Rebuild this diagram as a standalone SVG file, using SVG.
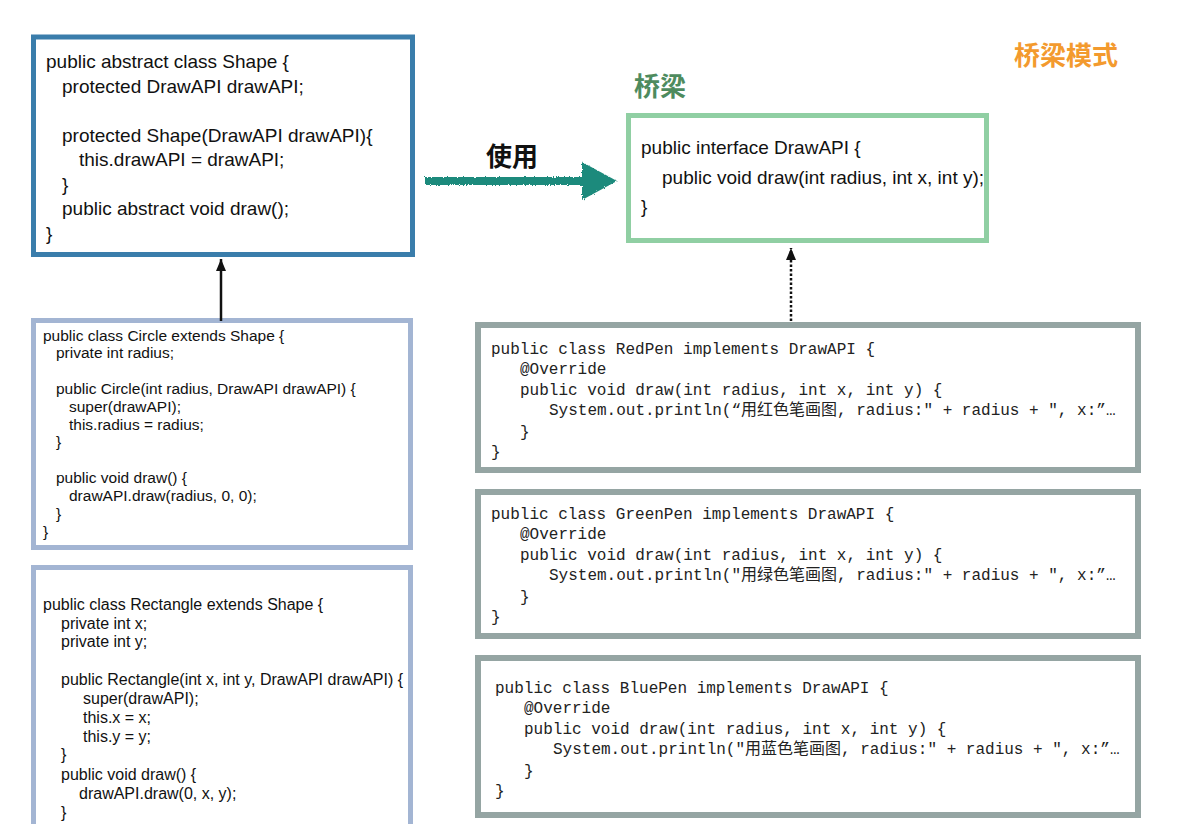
<svg xmlns="http://www.w3.org/2000/svg" width="1189" height="824" viewBox="0 0 1189 824">
<defs>
<style>
.box{fill:#fff;}
.shape{stroke:#3a7dab;stroke-width:5;}
.sub{stroke:#a3b5d3;stroke-width:5;}
.api{stroke:#90cfa3;stroke-width:5;}
.pen{stroke:#95a5a3;stroke-width:6;}
.sans{font-family:"Liberation Sans",Arial,sans-serif;fill:#111;}
.mono{font-family:"Liberation Mono","Courier New","Noto Sans CJK SC",monospace;font-size:16px;fill:#222;}
.t19{font-size:19px;}
.t155{font-size:15.5px;}
.t16{font-size:16px;}
.cjk{font-family:"Noto Sans CJK SC","Liberation Sans",sans-serif;font-weight:bold;}
</style>
<marker id="ah" viewBox="0 0 12 10" refX="12" refY="5" markerWidth="12" markerHeight="10" markerUnits="userSpaceOnUse" orient="auto">
<path d="M0,0 L12,5 L0,10 Z" fill="#111"/>
</marker>
<filter id="rough" x="-5%" y="-30%" width="110%" height="160%">
<feTurbulence type="fractalNoise" baseFrequency="0.9" numOctaves="2" seed="3"/>
<feDisplacementMap in="SourceGraphic" scale="3"/>
</filter>
</defs>
<rect width="1189" height="824" fill="#fff"/>

<text class="cjk" x="1014" y="65" font-size="26" fill="#f39a2e">桥梁模式</text>
<text class="cjk" x="634" y="96" font-size="26" fill="#4e8b5e">桥梁</text>

<g id="shape">
<rect class="box shape" x="33.5" y="37" width="379" height="217.5"/>
<text class="sans t19">
<tspan x="46" y="68">public abstract class Shape {</tspan>
<tspan x="62" y="92.5">protected DrawAPI drawAPI;</tspan>
<tspan x="62" y="141.5">protected Shape(DrawAPI drawAPI){</tspan>
<tspan x="79" y="166">this.drawAPI = drawAPI;</tspan>
<tspan x="62" y="190.5">}</tspan>
<tspan x="62" y="215">public abstract void draw();</tspan>
<tspan x="46" y="239.5">}</tspan>
</text>
</g>

<g id="drawapi">
<rect class="box api" x="628.5" y="115.5" width="358" height="125"/>
<text class="sans t19">
<tspan x="641" y="154">public interface DrawAPI {</tspan>
<tspan x="662" y="184">public void draw(int radius, int x, int y);</tspan>
<tspan x="641" y="213">}</tspan>
</text>
</g>

<g id="circle">
<rect class="box sub" x="33.5" y="320.5" width="377" height="227"/>
<text class="sans t155">
<tspan x="43" y="341">public class Circle extends Shape {</tspan>
<tspan x="56" y="358">private int radius;</tspan>
<tspan x="56" y="394">public Circle(int radius, DrawAPI drawAPI) {</tspan>
<tspan x="69" y="412">super(drawAPI);</tspan>
<tspan x="69" y="430">this.radius = radius;</tspan>
<tspan x="56" y="447">}</tspan>
<tspan x="56" y="483">public void draw() {</tspan>
<tspan x="69" y="501">drawAPI.draw(radius, 0, 0);</tspan>
<tspan x="56" y="519">}</tspan>
<tspan x="43" y="537">}</tspan>
</text>
</g>

<g id="rectangle">
<rect class="box sub" x="33.5" y="567.5" width="377" height="270"/>
<text class="sans t16">
<tspan x="43" y="610">public class Rectangle extends Shape {</tspan>
<tspan x="61" y="628.5">private int x;</tspan>
<tspan x="61" y="647">private int y;</tspan>
<tspan x="61" y="685">public Rectangle(int x, int y, DrawAPI drawAPI) {</tspan>
<tspan x="83" y="704">super(drawAPI);</tspan>
<tspan x="83" y="723">this.x = x;</tspan>
<tspan x="83" y="742">this.y = y;</tspan>
<tspan x="61" y="760">}</tspan>
<tspan x="61" y="780">public void draw() {</tspan>
<tspan x="79" y="799">drawAPI.draw(0, x, y);</tspan>
<tspan x="61" y="818">}</tspan>
</text>
</g>

<g id="redpen">
<rect class="box pen" x="478" y="325" width="660" height="145"/>
<text class="mono">
<tspan x="491" y="354">public class RedPen implements DrawAPI {</tspan>
<tspan x="520" y="374">@Override</tspan>
<tspan x="520" y="395">public void draw(int radius, int x, int y) {</tspan>
<tspan x="549" y="415">System.out.println(“用红色笔画图, radius:" + radius + ", x:”…</tspan>
<tspan x="520" y="437">}</tspan>
<tspan x="491" y="457">}</tspan>
</text>
</g>

<g id="greenpen">
<rect class="box pen" x="478" y="492" width="660" height="144"/>
<text class="mono">
<tspan x="491" y="519">public class GreenPen implements DrawAPI {</tspan>
<tspan x="520" y="539">@Override</tspan>
<tspan x="520" y="560">public void draw(int radius, int x, int y) {</tspan>
<tspan x="549" y="580">System.out.println("用绿色笔画图, radius:" + radius + ", x:”…</tspan>
<tspan x="520" y="602">}</tspan>
<tspan x="491" y="622">}</tspan>
</text>
</g>

<g id="bluepen">
<rect class="box pen" x="478" y="658" width="660" height="157"/>
<text class="mono">
<tspan x="495" y="693">public class BluePen implements DrawAPI {</tspan>
<tspan x="524" y="713">@Override</tspan>
<tspan x="524" y="734">public void draw(int radius, int x, int y) {</tspan>
<tspan x="553" y="754">System.out.println("用蓝色笔画图, radius:" + radius + ", x:”…</tspan>
<tspan x="524" y="776">}</tspan>
<tspan x="495" y="796">}</tspan>
</text>
</g>

<g id="connectors">
<line x1="221" y1="321" x2="221" y2="259" stroke="#111" stroke-width="2.5" marker-end="url(#ah)"/>
<line x1="791" y1="321" x2="791" y2="248" stroke="#111" stroke-width="2.5" stroke-dasharray="2.5,2" marker-end="url(#ah)"/>
<g filter="url(#rough)" fill="#1f8a7c">
<rect x="425" y="177" width="162" height="8"/>
<path d="M582,162 L617,181 L582,200 Z"/>
</g>
<text class="cjk" x="486" y="166" font-size="26" fill="#111">使用</text>
</g>
</svg>
